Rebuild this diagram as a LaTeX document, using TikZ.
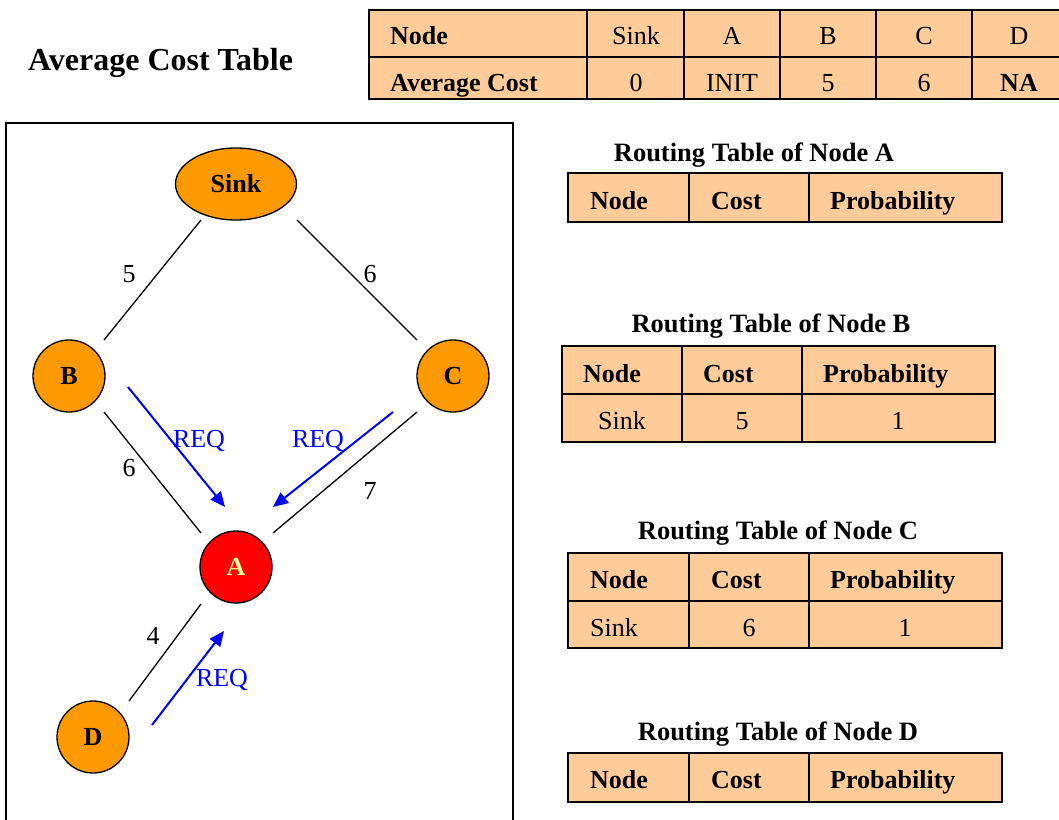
\documentclass[tikz,border=0pt]{standalone}
\usepackage{fontspec}
\setmainfont{Liberation Serif}
\usetikzlibrary{arrows.meta,calc,shapes.geometric}
\definecolor{nodeorange}{HTML}{FF9900}
\definecolor{cellpeach}{HTML}{FFCC99}
\definecolor{reqblue}{HTML}{0000FF}
\definecolor{labelyellow}{HTML}{FFFF99}

\begin{document}
\begin{tikzpicture}[x=1pt,y=-1pt,
  txt/.style={font=\fontsize{26}{30}\selectfont, inner sep=0pt},
  btxt/.style={font=\fontsize{26}{30}\selectfont\bfseries, inner sep=0pt},
  sensor/.style={circle, draw=black, line width=1.3pt, fill=nodeorange,
    minimum size=72pt, inner sep=0pt, font=\fontsize{26}{30}\selectfont\bfseries},
  link/.style={line width=1.3pt},
  req/.style={draw=reqblue, line width=2pt, -{Triangle[length=15pt,width=13pt]}},
  reqlabel/.style={text=reqblue, font=\fontsize{26}{30}\selectfont, inner sep=0pt, anchor=base},
  wlabel/.style={font=\fontsize{26}{30}\selectfont, inner sep=0pt, anchor=base},
  cell/.style={draw=black, line width=1.6pt, fill=cellpeach},
  tabtitle/.style={font=\fontsize{26.5}{30}\selectfont\bfseries, inner sep=0pt, anchor=base}
]
\useasboundingbox (0,0) rectangle (1059,819);
\begin{scope}
\clip (0,0) rectangle (1059,819);

% ---------- average cost table ----------
\node[font=\fontsize{32}{36}\selectfont\bfseries, inner sep=0pt, anchor=base west]
  (costtitle) at (28,70) {Average Cost Table};
\foreach \xa/\xb in {369/587,587/684,684/780,780/876,876/972,972/1070}
  \foreach \ya/\yb in {10/57,57/99}
    \draw[cell] (\xa,\ya) rectangle (\xb,\yb);
\node[btxt, anchor=base west] (hNode) at (390,44) {Node};
\node[txt, anchor=base] (hSink) at (636,44) {Sink};
\node[txt, anchor=base] (hA) at (732,44) {A};
\node[txt, anchor=base] (hB) at (828,44) {B};
\node[txt, anchor=base] (hC) at (924,44) {C};
\node[txt, anchor=base] (hD) at (1019,44) {D};
\node[btxt, anchor=base west] (vLabel) at (390,91) {Average Cost};
\node[txt, anchor=base] (vSink) at (636,91) {0};
\node[txt, anchor=base] (vA) at (732,91) {INIT};
\node[txt, anchor=base] (vB) at (828,91) {5};
\node[txt, anchor=base] (vC) at (924,91) {6};
\node[btxt, anchor=base] (vD) at (1019,91) {NA};

% ---------- network ----------
\draw[line width=1.2pt] (6,830) -- (6,123) -- (513,123) -- (513,830);

\node[ellipse, draw=black, line width=1.3pt, fill=nodeorange, minimum width=121pt,
  minimum height=72pt, inner sep=0pt, font=\fontsize{26}{30}\selectfont\bfseries]
  (sink) at (236,184) {Sink};
\node[sensor] (B) at (69,376) {B};
\node[sensor] (C) at (453,376) {C};
\node[sensor, fill=red, text=labelyellow] (A) at (236,567) {A};
\node[sensor] (D) at (93,737) {D};

\draw[link] ($(sink)+(-35,36)$) -- ($(B)+(35,-36)$);
\draw[link] ($(sink)+(61,36)$) -- ($(C)+(-36,-36)$);
\draw[link] ($(B)+(35,36)$) -- ($(A)+(-35,-34)$);
\draw[link] ($(C)+(-36,36)$) -- ($(A)+(37,-34)$);
\draw[link] ($(A)+(-35,37)$) -- ($(D)+(36,-36)$);

\node[wlabel] (w5) at (129,282) {5};
\node[wlabel] (w6a) at (370,282) {6};
\node[wlabel] (w6b) at (129,476) {6};
\node[wlabel] (w7) at (370,499) {7};
\node[wlabel] (w4) at (153,644) {4};

\draw[req] ($(B)+(59,11)$) -- ($(A)+(-11,-60)$);
\draw[req] ($(C)+(-60,36)$) -- ($(A)+(37,-60)$);
\draw[req] ($(D)+(59,-12)$) -- ($(A)+(-12,64)$);

\node[reqlabel] (reqB) at (199,447) {REQ};
\node[reqlabel] (reqC) at (318,447) {REQ};
\node[reqlabel] (reqD) at (222,686) {REQ};

% ---------- routing table of node A ----------
\node[tabtitle] (titleA) at (754,161) {Routing Table of Node A};
\foreach \xa/\xb in {568/689,689/809,809/1002}
  \draw[cell] (\xa,173) rectangle (\xb,222);
\node[btxt, anchor=base west] (aNode) at (590,209) {Node};
\node[btxt, anchor=base west] (aCost) at (711,209) {Cost};
\node[btxt, anchor=base west] (aProb) at (830,209) {Probability};

% ---------- routing table of node B ----------
\node[tabtitle] (titleB) at (771,332) {Routing Table of Node B};
\foreach \xa/\xb in {562/682,682/802,802/995}
  \foreach \ya/\yb in {346/394,394/442}
    \draw[cell] (\xa,\ya) rectangle (\xb,\yb);
\node[btxt, anchor=base west] (bNode) at (583,382) {Node};
\node[btxt, anchor=base west] (bCost) at (703,382) {Cost};
\node[btxt, anchor=base west] (bProb) at (823,382) {Probability};
\node[txt, anchor=base] (bSink) at (622,429) {Sink};
\node[txt, anchor=base] (bCostV) at (742,429) {5};
\node[txt, anchor=base] (bProbV) at (898,429) {1};

% ---------- routing table of node C ----------
\node[tabtitle] (titleC) at (778,539) {Routing Table of Node C};
\foreach \xa/\xb in {568/689,689/809,809/1002}
  \foreach \ya/\yb in {553/601,601/648}
    \draw[cell] (\xa,\ya) rectangle (\xb,\yb);
\node[btxt, anchor=base west] (cNode) at (590,588) {Node};
\node[btxt, anchor=base west] (cCost) at (711,588) {Cost};
\node[btxt, anchor=base west] (cProb) at (830,588) {Probability};
\node[txt, anchor=base west] (cSink) at (590,636) {Sink};
\node[txt, anchor=base] (cCostV) at (749,636) {6};
\node[txt, anchor=base] (cProbV) at (905,636) {1};

% ---------- routing table of node D ----------
\node[tabtitle] (titleD) at (778,740) {Routing Table of Node D};
\foreach \xa/\xb in {568/689,689/809,809/1002}
  \draw[cell] (\xa,753) rectangle (\xb,802);
\node[btxt, anchor=base west] (dNode) at (590,788) {Node};
\node[btxt, anchor=base west] (dCost) at (711,788) {Cost};
\node[btxt, anchor=base west] (dProb) at (830,788) {Probability};
\end{scope}
\end{tikzpicture}
\end{document}
